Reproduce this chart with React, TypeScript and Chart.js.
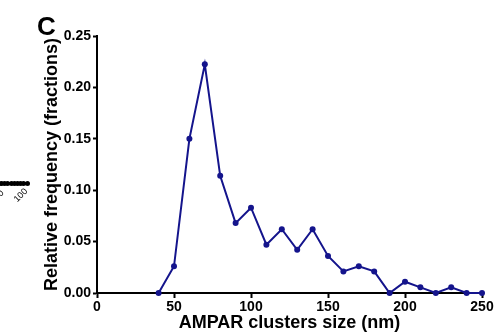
import React, { useEffect, useRef } from "react";
import { Chart, registerables } from "chart.js";

Chart.register(...registerables);

const sizes = [40, 50, 60, 70, 80, 90, 100, 110, 120, 130, 140, 150, 160, 170, 180, 190, 200, 210, 220, 230, 240, 250];
const freqs = [0, 0.026, 0.150, 0.2225, 0.114, 0.068, 0.083, 0.047, 0.062, 0.042, 0.062, 0.036, 0.021, 0.026, 0.021, 0, 0.011, 0.0055, 0, 0.0055, 0, 0];
const xTitle = "AMPAR clusters size (nm)";
const yTitle = "Relative frequency (fractions)";
const panelLabel = "C";
const fragmentDots = [0, 1, 2, 3, 4, 5, 6, 7, 8];

const FONT = "'Liberation Sans', Arial, sans-serif";
const LINE = "#14148c";

export default function App() {
  const ref = useRef<HTMLCanvasElement>(null);
  useEffect(() => {
    document.body.style.margin = "0";
    const ctx = ref.current!.getContext("2d")!;
    const chart = new Chart(ctx, {
      type: "line",
      data: {
        datasets: [
          {
            data: sizes.map((s, i) => ({ x: s, y: freqs[i] })),
            borderColor: LINE,
            backgroundColor: LINE,
            borderWidth: 2,
            pointRadius: 3,
            pointBorderWidth: 0,
            tension: 0,
            clip: false,
          },
        ],
      },
      options: {
        animation: false,
        responsive: false,
        maintainAspectRatio: false,
        layout: { padding: { top: 36, right: 15, left: 0, bottom: 0 } },
        plugins: { legend: { display: false }, tooltip: { enabled: false } },
        scales: {
          x: {
            type: "linear",
            min: 0,
            max: 250,
            afterFit: (s: any) => { s.height = 43; },
            ticks: { stepSize: 50, color: "#000", font: { family: FONT, size: 14, weight: "bold" }, padding: 1, maxRotation: 0 },
            grid: { drawOnChartArea: false, drawTicks: true, tickLength: 5, tickWidth: 2, tickColor: "#000" },
            border: { color: "#000", width: 2 },
            title: { display: true, text: xTitle, color: "#000", font: { family: FONT, size: 18, weight: "bold" }, padding: { top: 0, bottom: 2 } },
          },
          y: {
            type: "linear",
            min: 0,
            max: 0.25,
            afterFit: (s: any) => { s.width = 97; },
            ticks: { stepSize: 0.05, color: "#000", font: { family: FONT, size: 14, weight: "bold" }, padding: 2, callback: (v: any) => Number(v).toFixed(2) },
            grid: { drawOnChartArea: false, drawTicks: true, tickLength: 4, tickWidth: 2, tickColor: "#000" },
            border: { color: "#000", width: 2 },
            title: { display: true, text: yTitle, color: "#000", font: { family: FONT, size: 18, weight: "bold" }, padding: { top: 41, bottom: 0 } },
          },
        },
      },
    });
    return () => chart.destroy();
  }, []);
  return (
    <div style={{ position: "relative", width: 497, height: 336, background: "#fff", overflow: "hidden" }}>
      <canvas ref={ref} width={497} height={336} style={{ position: "absolute", left: 0, top: 0 }} />
      <div style={{ position: "absolute", left: 37, top: 12, fontFamily: FONT, fontWeight: "bold", fontSize: 26, lineHeight: "28px", color: "#000" }}>{panelLabel}</div>
      <div style={{ position: "absolute", left: -1, top: 181, height: 5, width: 30, display: "flex" }}>
        <div style={{ position: "absolute", left: 0, top: 1, width: 28, height: 3, background: "#000" }} />
        {fragmentDots.map((d) => (
          <div key={d} style={{ position: "absolute", left: d * 3.2, top: 0, width: 5, height: 5, borderRadius: "50%", background: "#000" }} />
        ))}
      </div>
      <div style={{ position: "absolute", left: -2, top: 188, fontFamily: FONT, fontSize: 9, color: "#000", transform: "rotate(-45deg)" }}>0</div>
      <div style={{ position: "absolute", left: 13, top: 190, fontFamily: FONT, fontSize: 9, color: "#000", transform: "rotate(-45deg)" }}>100</div>
    </div>
  );
}
